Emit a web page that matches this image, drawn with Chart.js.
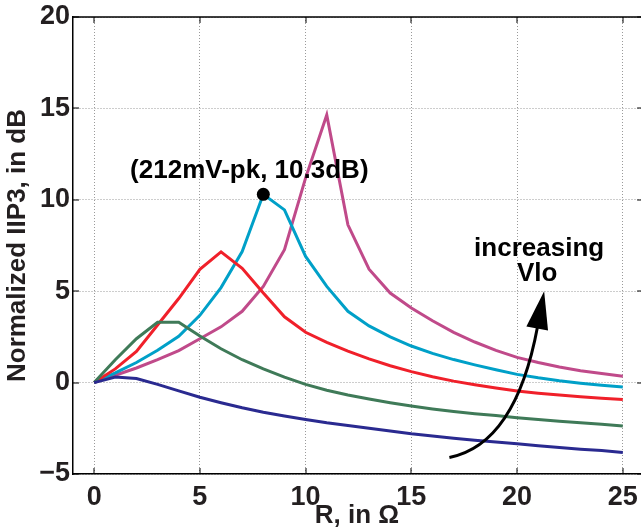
<!DOCTYPE html>
<html>
<head>
<meta charset="utf-8">
<script src="https://cdn.jsdelivr.net/npm/chart.js@4/dist/chart.umd.min.js"></script>
<style>
html,body{margin:0;padding:0;background:#fff;overflow:hidden;}
#wrap{width:641px;height:531px;position:relative;}
</style>
</head>
<body>
<div id="wrap"><canvas id="c" width="641" height="531"></canvas></div>
<script>
const R = [0,1,2,3,4,5,6,7,8,9,10,11,12,13,14,15,16,17,18,19,20,21,22,23,24,25];
const vlo1 = [0,0.3,0.22,-0.1,-0.45,-0.8,-1.1,-1.38,-1.62,-1.83,-2.02,-2.2,-2.35,-2.5,-2.65,-2.8,-2.92,-3.04,-3.15,-3.25,-3.35,-3.45,-3.55,-3.64,-3.72,-3.82];
const vlo2 = [0,1.25,2.4,3.3,3.3,2.55,1.85,1.25,0.75,0.3,-0.1,-0.42,-0.68,-0.9,-1.1,-1.28,-1.44,-1.58,-1.7,-1.8,-1.92,-2.02,-2.12,-2.2,-2.28,-2.38];
const vlo3 = [0,0.75,1.7,3.15,4.6,6.2,7.15,6.25,4.9,3.6,2.75,2.2,1.72,1.3,0.92,0.6,0.32,0.08,-0.12,-0.3,-0.46,-0.58,-0.68,-0.77,-0.85,-0.93];
const vlo4 = [0,0.53,1.1,1.77,2.53,3.68,5.2,7.17,10.3,9.45,6.9,5.26,3.9,3.1,2.5,2.0,1.6,1.26,0.97,0.7,0.45,0.26,0.1,-0.03,-0.14,-0.24];
const vlo5 = [0,0.4,0.8,1.26,1.75,2.4,3.05,3.9,5.26,7.27,11.2,14.64,8.63,6.2,4.9,4.08,3.38,2.75,2.22,1.76,1.38,1.1,0.85,0.65,0.5,0.35];
const xTicks = [0,5,10,15,20,25];
const yTicks = [-5,0,5,10,15,20];
const peakPoint = {x: 8, y: 10.3, label: '(212mV-pk, 10.3dB)'};
const arrowPath = {start: [16.8,-4.1], ctrl: [20.1,-2.35], end: [21.28,5.0]};
const arrowLabel = ['increasing', 'Vlo'];

const FONT = '"Liberation Sans", Arial, Helvetica, sans-serif';
const colors = ['#2a2a90','#3f7a58','#f0202a','#00a0c8','#c04a8a'];
const series = [vlo1,vlo2,vlo3,vlo4,vlo5];

const frame = {
  id: 'frame',
  afterDatasetsDraw(chart) {
    const ctx = chart.ctx;
    const xs = chart.scales.x, ys = chart.scales.y;
    const L0 = xs.left, T0 = ys.top, B0 = ys.bottom;
    const right = xs.getPixelForValue(25.96);
    ctx.save();
    ctx.fillStyle = '#000000';
    ctx.fillRect(L0 - 0.75, T0 - 0.75, right - L0 + 1, 1.5);
    xTicks.forEach(v => { const p = Math.round(xs.getPixelForValue(v));
      ctx.fillRect(p - 0.5, B0 - 6, 1, 6);
      ctx.fillRect(p - 0.5, T0, 1, 6); });
    yTicks.forEach(v => { const p = Math.round(ys.getPixelForValue(v));
      ctx.fillRect(L0, p - 0.5, 6, 1);
      ctx.fillRect(right - 6, p - 0.5, 6, 1); });
    const px = xs.getPixelForValue(peakPoint.x), py = ys.getPixelForValue(peakPoint.y);
    ctx.beginPath(); ctx.arc(px, py, 6.5, 0, Math.PI*2); ctx.fill();
    ctx.font = 'bold 26px ' + FONT;
    ctx.textAlign = 'center'; ctx.textBaseline = 'middle';
    ctx.fillText(peakPoint.label, px - 14, py - 23);
    const s = [xs.getPixelForValue(arrowPath.start[0]), ys.getPixelForValue(arrowPath.start[1])];
    const c = [xs.getPixelForValue(arrowPath.ctrl[0]), ys.getPixelForValue(arrowPath.ctrl[1])];
    const e = [xs.getPixelForValue(arrowPath.end[0]), ys.getPixelForValue(arrowPath.end[1])];
    const hl = 38, hw = 11;
    let dx = e[0]-c[0], dy = e[1]-c[1]; const len = Math.hypot(dx,dy); dx/=len; dy/=len;
    const b = [e[0]-dx*hl, e[1]-dy*hl];
    ctx.setLineDash([]);
    ctx.strokeStyle = '#000'; ctx.lineWidth = 3;
    ctx.beginPath(); ctx.moveTo(s[0], s[1]);
    const c2 = [c[0] + (b[0]-e[0])*0.5, c[1] + (b[1]-e[1])*0.5];
    ctx.quadraticCurveTo(c2[0], c2[1], b[0]+dx*2, b[1]+dy*2); ctx.stroke();
    ctx.beginPath();
    ctx.moveTo(e[0], e[1]);
    ctx.lineTo(b[0] - dy*hw, b[1] + dx*hw);
    ctx.lineTo(b[0] + dy*hw, b[1] - dx*hw);
    ctx.closePath(); ctx.fill();
    ctx.font = 'bold 26px ' + FONT;
    ctx.fillText(arrowLabel[0], e[0] - 5, e[1] - 42);
    ctx.fillText(arrowLabel[1], e[0] - 7, e[1] - 17);
    ctx.restore();
  }
};

new Chart(document.getElementById('c'), {
  type: 'line',
  data: {
    datasets: series.map((d, i) => ({
      data: d.map((v, k) => ({x: R[k], y: v})),
      borderColor: colors[i], borderWidth: 3, pointRadius: 0, tension: 0, fill: false
    }))
  },
  options: {
    responsive: false, animation: false, devicePixelRatio: 1,
    layout: {padding: {top: 17, right: 0, bottom: 0, left: 0}},
    plugins: {legend: {display: false}, tooltip: {enabled: false}},
    scales: {
      x: {
        type: 'linear', min: -1, max: 25.86,
        afterBuildTicks: s => { s.ticks = xTicks.map(v => ({value: v})); },
        afterFit: s => { s.height = 57; s.paddingLeft = 0; s.paddingRight = 0; },
        grid: {color: '#9a9a9a', lineWidth: 1, drawTicks: false},
        border: {display: true, color: '#000', width: 1.5, dash: [1,2]},
        ticks: {font: {family: FONT, size: 27, weight: 'bold'}, color: '#231f20', padding: 7, maxRotation: 0},
        title: {display: true, text: 'R, in Ω', font: {family: FONT, size: 26, weight: 'bold'}, color: '#231f20', padding: {top: 1, bottom: 0}}
      },
      y: {
        type: 'linear', min: -5, max: 20,
        afterBuildTicks: s => { s.ticks = yTicks.map(v => ({value: v})); },
        afterFit: s => { s.width = 73; s.paddingTop = 0; s.paddingBottom = 0; },
        grid: {color: '#9a9a9a', lineWidth: 1, drawTicks: false},
        border: {display: true, color: '#000', width: 1.5, dash: [1,2]},
        ticks: {font: {family: FONT, size: 27, weight: 'bold'}, color: '#231f20', padding: 3,
          callback: v => v < 0 ? '\u2212' + Math.abs(v) : String(v)},
        title: {display: true, text: 'Normalized IIP3, in dB', font: {family: FONT, size: 26, weight: 'bold'}, color: '#231f20', padding: {top: 2, bottom: 0}}
      }
    }
  },
  plugins: [frame]
});
</script>
</body>
</html>
